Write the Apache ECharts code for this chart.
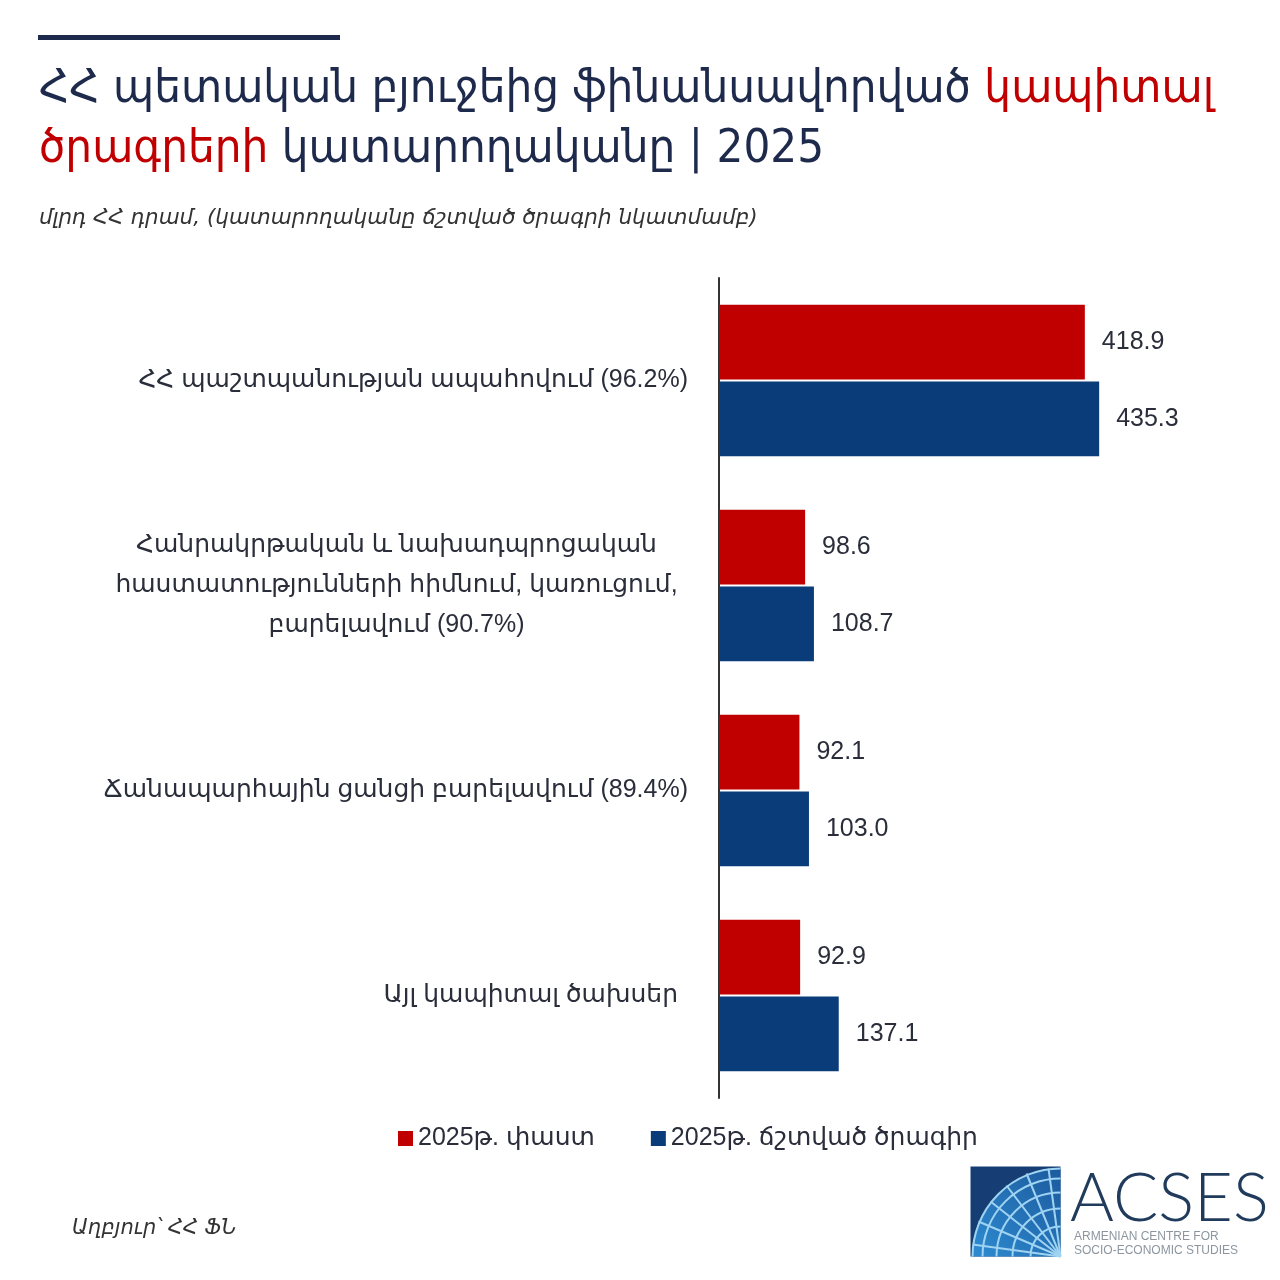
<!DOCTYPE html>
<html>
<head>
<meta charset="utf-8">
<script src="https://cdn.jsdelivr.net/npm/echarts@6/dist/echarts.min.js"></script>
<style>
html,body{margin:0;padding:0;background:#fff;}
#chart{width:1280px;height:1280px;}
</style>
</head>
<body>
<div id="chart"></div>
<script>
const categories = [
  'ՀՀ պաշտպանության ապահովում (96.2%)',
  'Հանրակրթական և նախադպրոցական\nհաստատությունների հիմնում, կառուցում,\nբարելավում (90.7%)',
  'Ճանապարհային ցանցի բարելավում (89.4%)',
  'Այլ կապիտալ ծախսեր'
];
const seriesNames = ['2025թ. փաստ', '2025թ. ճշտված ծրագիր'];
const actual = [418.9, 98.6, 92.1, 92.9];
const planned = [435.3, 108.7, 103.0, 137.1];

const RED = '#C00000';
const BLUE = '#0A3C7A';
const TEXT = '#2A2D3A';
const NAVY = '#1E2A4C';
const FONT = '"Liberation Sans", "DejaVu Sans", Arial, sans-serif';
const TFONT = '"DejaVu Sans Condensed", "DejaVu Sans", sans-serif';

const chart = echarts.init(document.getElementById('chart'), null, {renderer: 'canvas'});

const option = {
  backgroundColor: '#ffffff',
  animation: false,
  title: {
    text: '{n|ՀՀ պետական բյուջեից ֆինանսավորված }{r|կապիտալ}\n{r|ծրագրերի }{n|կատարողականը | 2025}',
    subtext: 'մլրդ ՀՀ դրամ, (կատարողականը ճշտված ծրագրի նկատմամբ)',
    left: 34,
    top: 55,
    itemGap: 40,
    textStyle: {
      fontWeight: 'normal',
      rich: {
        n: {color: NAVY, fontSize: 47, fontWeight: 'normal', fontFamily: TFONT, lineHeight: 60},
        r: {color: RED, fontSize: 47, fontWeight: 'normal', fontFamily: TFONT, lineHeight: 60}
      }
    },
    subtextStyle: {
      color: '#333', fontSize: 21.5, fontStyle: 'italic',
      fontFamily: '"DejaVu Sans", sans-serif'
    }
  },
  legend: {
    data: seriesNames,
    left: 393,
    top: 1121,
    itemWidth: 15,
    itemHeight: 15,
    itemGap: 56,
    icon: 'rect',
    textStyle: {color: TEXT, fontSize: 25, fontFamily: FONT}
  },
  grid: {left: 719, right: 37, top: 278, bottom: 182, containLabel: false},
  xAxis: {
    type: 'value', min: 0, max: 600,
    show: false
  },
  yAxis: {
    type: 'category',
    data: categories,
    inverse: true,
    axisLine: {show: true, lineStyle: {color: '#333', width: 2}},
    axisTick: {show: false},
    axisLabel: {
      margin: 31,
      color: TEXT,
      fontSize: 25,
      fontFamily: FONT,
      lineHeight: 40,
      formatter: function (v, i) {
        if (v.indexOf('\n') >= 0) {
          return v.split('\n').map(l => '{c|' + l + '}').join('\n');
        }
        if (i === 3) return '{p|' + v + '}';
        return v;
      },
      rich: {
        c: {width: 583, align: 'center', color: TEXT, fontSize: 25, fontFamily: FONT, lineHeight: 40},
        p: {padding: [0, 10, 0, 0], color: TEXT, fontSize: 25, fontFamily: FONT}
      }
    }
  },
  series: [
    {
      name: seriesNames[0], type: 'bar', data: actual,
      itemStyle: {color: RED},
      barGap: '3%', barCategoryGap: '26%',
      label: {show: true, position: 'right', distance: 17, color: TEXT, fontSize: 25, fontFamily: FONT,
        formatter: p => p.value.toFixed(1)}
    },
    {
      name: seriesNames[1], type: 'bar', data: planned,
      itemStyle: {color: BLUE},
      barGap: '3%', barCategoryGap: '26%',
      label: {show: true, position: 'right', distance: 17, color: TEXT, fontSize: 25, fontFamily: FONT,
        formatter: p => p.value.toFixed(1)}
    }
  ],
  graphic: [
    {type: 'rect', left: 38, top: 35, shape: {width: 302, height: 5}, style: {fill: NAVY}},
    {type: 'text', left: 72, top: 1218, style: {text: 'Աղբյուր՝ ՀՀ ՖՆ', fill: '#333', fontSize: 21, fontStyle: 'italic',
      fontFamily: '"DejaVu Sans", sans-serif'}},
    // logo
    {type: 'group', left: 970, top: 1166, children: [
      {type: 'rect', shape: {x: 0, y: 0, width: 90, height: 90}, style: {fill: '#163E74'}},
      {type: 'sector', shape: {cx: 90, cy: 90, r0: 0, r: 88, startAngle: Math.PI, endAngle: Math.PI * 1.5},
        style: {fill: new echarts.graphic.LinearGradient(0, 1, 1, 0, [{offset: 0, color: '#2E8BD0'}, {offset: 1, color: '#1C5A9E'}])}},
      {type: 'arc', shape: {cx: 90, cy: 90, r: 30, startAngle: Math.PI, endAngle: Math.PI * 1.5}, style: {stroke: '#9FD3F2', lineWidth: 2, fill: null}},
      {type: 'arc', shape: {cx: 90, cy: 90, r: 48, startAngle: Math.PI, endAngle: Math.PI * 1.5}, style: {stroke: '#9FD3F2', lineWidth: 2, fill: null}},
      {type: 'arc', shape: {cx: 90, cy: 90, r: 64, startAngle: Math.PI, endAngle: Math.PI * 1.5}, style: {stroke: '#9FD3F2', lineWidth: 2, fill: null}},
      {type: 'arc', shape: {cx: 90, cy: 90, r: 78, startAngle: Math.PI, endAngle: Math.PI * 1.5}, style: {stroke: '#9FD3F2', lineWidth: 2, fill: null}},
      {type: 'arc', shape: {cx: 90, cy: 90, r: 88, startAngle: Math.PI, endAngle: Math.PI * 1.5}, style: {stroke: '#9FD3F2', lineWidth: 2, fill: null}},
      {type: 'line', shape: {x1: 90, y1: 90, x2: 2, y2: 78}, style: {stroke: '#9FD3F2', lineWidth: 2}},
      {type: 'line', shape: {x1: 90, y1: 90, x2: 8, y2: 55}, style: {stroke: '#9FD3F2', lineWidth: 2}},
      {type: 'line', shape: {x1: 90, y1: 90, x2: 20, y2: 35}, style: {stroke: '#9FD3F2', lineWidth: 2}},
      {type: 'line', shape: {x1: 90, y1: 90, x2: 36, y2: 19}, style: {stroke: '#9FD3F2', lineWidth: 2}},
      {type: 'line', shape: {x1: 90, y1: 90, x2: 56, y2: 7}, style: {stroke: '#9FD3F2', lineWidth: 2}},
      {type: 'line', shape: {x1: 90, y1: 90, x2: 78, y2: 2}, style: {stroke: '#9FD3F2', lineWidth: 2}}
    ]},
    {type: 'text', left: 1070, top: 1166, style: {text: 'ACSES', fill: '#213B5C', fontSize: 67, fontWeight: 300,
      fontFamily: 'Lato, "Open Sans", sans-serif'}},
    {type: 'text', left: 1074, top: 1230, style: {text: 'ARMENIAN CENTRE FOR\nSOCIO-ECONOMIC STUDIES', fill: '#8C96A0', fontSize: 12, lineHeight: 14,
      fontFamily: '"Liberation Sans", sans-serif'}}
  ]
};
chart.setOption(option);
</script>
</body>
</html>
